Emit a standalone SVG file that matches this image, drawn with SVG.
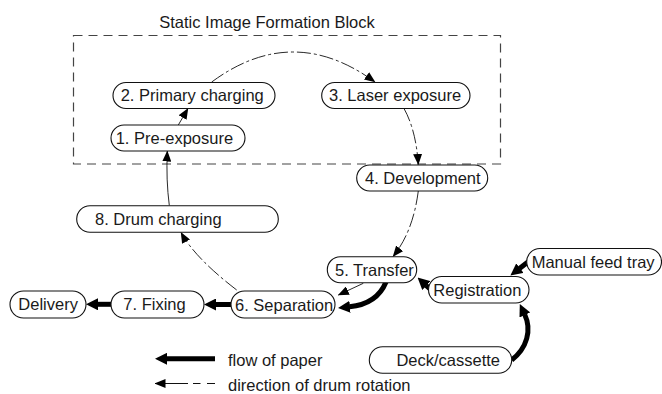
<svg xmlns="http://www.w3.org/2000/svg" width="662" height="394" viewBox="0 0 662 394">
<defs>
<style>
.n rect{fill:#fff;stroke:#111;stroke-width:1.1}
text{font-family:"Liberation Sans",Arial,sans-serif;font-size:16.5px;fill:#1a1a1a}
.drum{fill:none;stroke:#111;stroke-width:0.9;stroke-dasharray:14 3 3 3;marker-end:url(#ta)}
.solid{fill:none;stroke:#111;stroke-width:0.9;marker-end:url(#ta)}
.paper{fill:none;stroke:#000;stroke-width:5;marker-end:url(#pa)}
</style>
<marker id="ta" markerUnits="userSpaceOnUse" markerWidth="11" markerHeight="9" refX="10.5" refY="4.5" orient="auto" viewBox="0 0 11 9">
<path d="M0,0 L11,4.5 L0,9 z" fill="#000"/>
</marker>
<marker id="pa" markerUnits="userSpaceOnUse" markerWidth="12" markerHeight="12" refX="0.5" refY="6" orient="auto" viewBox="0 0 12 12">
<path d="M0,0 L12,6 L0,12 z" fill="#000"/>
</marker>
</defs>
<rect width="662" height="394" fill="#fff"/>

<g id="block">
<rect x="73.5" y="35.5" width="427" height="128.5" fill="none" stroke="#444" stroke-width="1.2" stroke-dasharray="9 6"/>
<text x="267" y="27.5" text-anchor="middle">Static Image Formation Block</text>
</g>

<g id="connectors">
<path class="drum" d="M211.7 82 Q293 22 375 82"/>
<path class="drum" d="M404 108.5 Q416 130 418.3 164.5"/>
<path class="drum" d="M418.3 191 Q413 232 393 256.5"/>
<path class="solid" d="M363.3 283.3 L338.3 295"/>
<path class="drum" d="M236.7 290 Q195 258 181 232.5"/>
<path class="solid" d="M169.3 205.5 Q166 180 167.3 151"/>
<path class="solid" d="M178.3 125 L188 108.5"/>
<path class="paper" d="M111 304.3 L97.5 304.3"/>
<path class="paper" d="M231 304.5 L215.5 304.5"/>
<path class="paper" d="M386 282 Q377 304 349.5 306.8"/>
<path class="paper" d="M430 289 L426 285.3"/>
<path class="paper" d="M528.5 261.5 L519.5 268.4"/>
<path class="paper" d="M511.7 360 C527 348 532 330 524.7 314.5"/>
</g>

<g id="n1" class="n"><rect x="111" y="125" width="134" height="26" rx="13"/><text x="115.7" y="143.8">1. Pre-exposure</text></g>
<g id="n2" class="n"><rect x="113" y="82.5" width="162" height="26" rx="13"/><text x="120.7" y="101.3">2. Primary charging</text></g>
<g id="n3" class="n"><rect x="321.7" y="82.5" width="148.3" height="26" rx="13"/><text x="329" y="101.3">3. Laser exposure</text></g>
<g id="n4" class="n"><rect x="356.7" y="165" width="131" height="26" rx="13"/><text x="365" y="183.8">4. Development</text></g>
<g id="n5" class="n"><rect x="327.3" y="256.7" width="89.4" height="26" rx="13"/><text x="335" y="275.5">5. Transfer</text></g>
<g id="n6" class="n"><rect x="231" y="291" width="104" height="27" rx="13.5"/><text x="235" y="310.5">6. Separation</text></g>
<g id="n7" class="n"><rect x="111" y="291" width="93" height="27" rx="13.5"/><text x="123.3" y="310.3">7. Fixing</text></g>
<g id="n8" class="n"><rect x="76.7" y="205.7" width="201.6" height="26.6" rx="13.3"/><text x="95" y="224.8">8. Drum charging</text></g>
<g id="delivery" class="n"><rect x="10" y="291" width="76" height="27" rx="13.5"/><text x="18.3" y="310.3">Delivery</text></g>
<g id="registration" class="n"><rect x="428.5" y="276.5" width="100.5" height="26.5" rx="13.25"/><text x="433.3" y="295.5">Registration</text></g>
<g id="manual" class="n"><rect x="526.7" y="248.5" width="134.8" height="26.5" rx="13.25"/><text x="531.7" y="267.5">Manual feed tray</text></g>
<g id="deck" class="n"><rect x="369.3" y="346.7" width="142.4" height="26.6" rx="13.3"/><text x="500" y="365.8" text-anchor="end">Deck/cassette</text></g>

<g id="legend">
<path class="paper" d="M215 358.8 L166.5 358.8"/>
<text x="228" y="366">flow of paper</text>
<path d="M188 383.5 L155 383.5" fill="none" stroke="#111" stroke-width="1" marker-end="url(#ta)"/>
<path d="M193 383.5 L200.5 383.5 M207 383.5 L215 383.5" fill="none" stroke="#111" stroke-width="1"/>
<text x="228" y="391">direction of drum rotation</text>
</g>
</svg>
